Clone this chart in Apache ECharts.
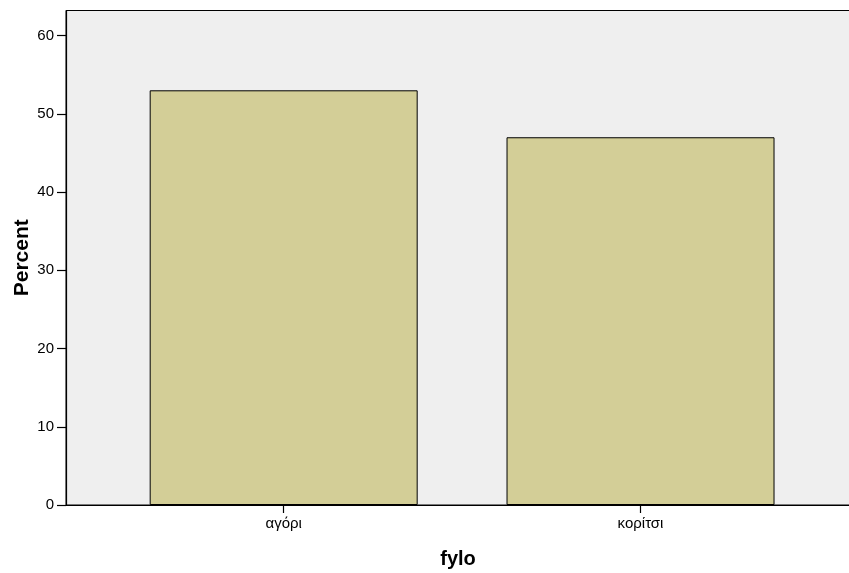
<!DOCTYPE html>
<html>
<head>
<meta charset="utf-8">
<script src="https://cdn.jsdelivr.net/npm/echarts@6/dist/echarts.min.js"></script>
<style>
html,body{margin:0;padding:0;background:#fff;}
#chart{width:849px;height:573px;}
</style>
</head>
<body>
<div id="chart"></div>
<script>
const categories = ['αγόρι', 'κορίτσι'];
const percents = [53.0, 47.0];
const yTicks = [0, 10, 20, 30, 40, 50, 60];

const positions = categories.map((c, i) => i + 1);
const chart = echarts.init(document.getElementById('chart'));
const font = 'Liberation Sans, Arial, sans-serif';
chart.setOption({
  animation: false,
  backgroundColor: '#ffffff',
  grid: {
    left: 66, top: 10.5, right: -1, bottom: 68,
    outerBoundsMode: 'none', containLabel: false,
    show: true, backgroundColor: '#efefef', borderColor: '#000', borderWidth: 1
  },
  xAxis: {
    type: 'value',
    min: 0.39, max: 2.587,
    name: 'fylo', nameLocation: 'middle', nameGap: 44, nameMoveOverlap: false,
    nameTextStyle: { fontFamily: font, fontWeight: 'bold', fontSize: 20, color: '#000' },
    axisLine: { show: true, lineStyle: { color: '#000', width: 1.2 } },
    axisTick: { show: true, customValues: positions, length: 8, lineStyle: { color: '#000', width: 1.2 } },
    axisLabel: {
      customValues: positions,
      formatter: v => categories[Math.round(v) - 1] || '',
      fontFamily: font, fontSize: 15, color: '#000', margin: 11
    },
    splitLine: { show: false }
  },
  yAxis: {
    type: 'value',
    min: 0, max: 63.2, interval: 10,
    name: 'Percent', nameLocation: 'middle', nameGap: 33, nameMoveOverlap: false,
    nameTextStyle: { fontFamily: font, fontWeight: 'bold', fontSize: 21, color: '#000' },
    axisLine: { show: true, lineStyle: { color: '#000', width: 1.2 } },
    axisTick: { show: true, customValues: yTicks, length: 9, lineStyle: { color: '#000', width: 1.2 } },
    axisLabel: { customValues: yTicks, fontFamily: font, fontSize: 15, color: '#000', margin: 12 },
    splitLine: { show: false }
  },
  series: [{
    type: 'bar',
    data: positions.map((p, i) => [p, percents[i]]),
    barWidth: 268,
    itemStyle: { color: '#d3ce97', borderColor: '#000', borderWidth: 1 }
  }]
});
</script>
</body>
</html>
